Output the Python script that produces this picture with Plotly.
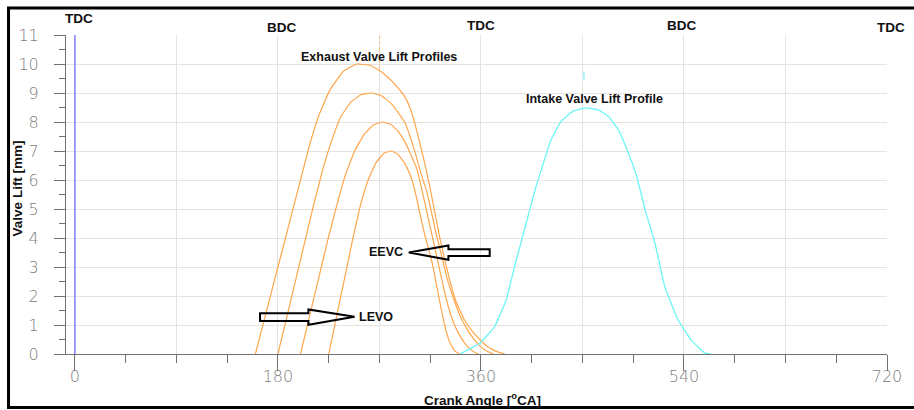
import plotly.graph_objects as go

# ---------------- data ----------------
# Exhaust valve lift profiles (crank angle [deg], lift [mm])
exh1_ca = [160, 168, 176, 184, 192, 200, 208, 216, 226, 238, 250, 262, 271, 280, 287, 292, 297, 301, 305, 310, 315, 319, 323, 327, 332, 338, 345, 352, 359, 366, 373, 381]
exh1_lift = [0, 1.2, 2.4, 3.6, 4.8, 6.0, 7.2, 8.2, 9.1, 9.75, 10.0, 9.95, 9.75, 9.45, 9.15, 8.9, 8.5, 8.0, 7.4, 6.6, 5.7, 4.9, 4.1, 3.4, 2.6, 1.8, 1.2, 0.8, 0.5, 0.25, 0.1, 0]

exh2_ca = [180, 188, 196, 204, 212, 220, 228, 236, 245, 254, 263, 272, 280, 287, 293, 298, 302, 307, 312, 316, 320, 325, 330, 335, 341, 347, 353, 359, 365, 371]
exh2_lift = [0, 1.3, 2.6, 3.9, 5.2, 6.4, 7.4, 8.2, 8.7, 8.95, 9.0, 8.9, 8.65, 8.3, 7.95, 7.4, 6.9, 6.2, 5.6, 4.9, 4.2, 3.4, 2.6, 2.0, 1.35, 0.9, 0.55, 0.28, 0.1, 0]

exh3_ca = [200, 208, 216, 224, 232, 240, 248, 256, 264, 272, 280, 286, 292, 297, 303, 308, 312, 316, 320, 324, 328, 332, 336, 341, 346, 351, 355, 358]
exh3_lift = [0, 1.3, 2.6, 3.9, 5.1, 6.2, 7.0, 7.55, 7.88, 8.0, 7.92, 7.7, 7.35, 6.95, 6.4, 5.6, 4.9, 4.2, 3.5, 2.8, 2.1, 1.5, 1.05, 0.65, 0.35, 0.15, 0.05, 0]

exh4_ca = [225, 232, 239, 246, 253, 260, 267, 274, 280, 286, 292, 297, 301, 305, 309, 313, 317, 321, 325, 329, 333, 337, 341]
exh4_lift = [0, 1.3, 2.6, 3.9, 5.1, 6.0, 6.6, 6.92, 7.0, 6.9, 6.6, 6.2, 5.7, 5.0, 4.3, 3.7, 3.1, 2.3, 1.5, 0.8, 0.35, 0.1, 0]

# Intake valve lift profile
int_ca = [341.4, 359, 372, 382.4, 389.7, 400, 408.8, 417.6, 422, 430.8, 441, 452.7, 464.4, 473.3, 482, 490.8, 498.2, 505.5, 514.3, 523, 534.8, 546.5, 558.2, 564]
int_lift = [0, 0.37, 0.94, 1.86, 3.0, 4.5, 5.77, 6.86, 7.38, 8.01, 8.36, 8.49, 8.41, 8.18, 7.72, 6.92, 6.11, 4.97, 3.82, 2.32, 1.17, 0.48, 0.04, 0]

x_ticks = [0, 180, 360, 540, 720]
x_ticktext = ["0", "180", "360", "540", "720"]
x_grid_minor = [90, 270, 450, 630]
x_ticks_minor = [45, 90, 135, 225, 270, 315, 405, 450, 495, 585, 630, 675]
y_ticks = list(range(0, 12))

dead_centres = ["TDC", "BDC", "TDC", "BDC", "TDC"]

# ---------------- layout geometry helpers (pixels -> data / paper) ----------------
X0_PX, PX_PER_DEG = 75.0, 1.1375
Y0_PX, PX_PER_MM = 354.0, 29.0
L_PX, PLOT_W, PLOT_H = 66.0, 828.0, 319.0


def dx(px):
    return (px - X0_PX) / PX_PER_DEG


def dy(py):
    return (Y0_PX - py) / PX_PER_MM


def pxp(px):
    return (px - L_PX) / PLOT_W


def pyp(py):
    return (Y0_PX - py) / PLOT_H


def path_px(points, close=True):
    s = "M " + " L ".join(f"{dx(p[0]):.3f},{dy(p[1]):.3f}" for p in points)
    return s + (" Z" if close else "")


ORANGE = "#ffa64d"
CYAN = "#6ff5f5"

fig = go.Figure()

for ca, lift in [(exh1_ca, exh1_lift), (exh2_ca, exh2_lift), (exh3_ca, exh3_lift), (exh4_ca, exh4_lift)]:
    fig.add_trace(go.Scatter(x=ca, y=lift, mode="lines",
                             line=dict(color=ORANGE, width=1.2, shape="spline", smoothing=0.3),
                             hoverinfo="skip", showlegend=False))

fig.add_trace(go.Scatter(x=int_ca, y=int_lift, mode="lines",
                         line=dict(color=CYAN, width=1.3, shape="spline", smoothing=0.3),
                         hoverinfo="skip", showlegend=False))

# TDC marker line at 0 deg
fig.add_trace(go.Scatter(x=[0, 0], y=[0, 11], mode="lines",
                         line=dict(color="#8080ff", width=1.5), hoverinfo="skip", showlegend=False))
# small marker remnants
fig.add_trace(go.Scatter(x=[270, 270], y=[9.85, 10.95], mode="lines",
                         line=dict(color=ORANGE, width=1, dash="dot"), opacity=0.7,
                         hoverinfo="skip", showlegend=False))
fig.add_trace(go.Scatter(x=[451.3, 451.3], y=[9.47, 9.73], mode="lines",
                         line=dict(color=CYAN, width=1.2), hoverinfo="skip", showlegend=False))
# empty trace so that the tick-only overlay axis is drawn
fig.add_trace(go.Scatter(x=[None], y=[None], xaxis="x2", yaxis="y", mode="lines",
                         hoverinfo="skip", showlegend=False))

GRID = "#e6e3dc"
AXC = "#707070"
TICKFONT = dict(family="DejaVu Sans", size=16, color="#808080", weight=200)

fig.update_layout(
    width=914, height=410,
    margin=dict(l=66, r=20, t=35, b=56),
    paper_bgcolor="white", plot_bgcolor="white",
    xaxis=dict(
        range=[dx(66), 720], domain=[0, 1],
        tickmode="array", tickvals=x_ticks, ticktext=x_ticktext,
        ticks="", ticklabelstandoff=8,
        showgrid=True, gridcolor=GRID, gridwidth=1,
        minor=dict(tickmode="array", tickvals=x_grid_minor, ticks="",
                   showgrid=True, gridcolor=GRID, gridwidth=1),
        showline=True, linecolor=AXC, linewidth=1, zeroline=False,
        tickfont=TICKFONT, fixedrange=True,
    ),
    xaxis2=dict(
        overlaying="x", anchor="y", range=[dx(66), 720],
        tickmode="array", tickvals=x_ticks,
        ticks="outside", ticklen=16, tickwidth=1, tickcolor=AXC,
        minor=dict(tickmode="array", tickvals=x_ticks_minor, ticks="outside",
                   ticklen=8, tickwidth=1, tickcolor=AXC, showgrid=False),
        showticklabels=False, showgrid=False, showline=False, zeroline=False,
    ),
    yaxis=dict(
        range=[0, 11], tickmode="array", tickvals=y_ticks,
        ticks="outside", ticklen=11, tickwidth=1, tickcolor=AXC,
        minor=dict(dtick=0.5, ticks="outside", ticklen=6, tickcolor=AXC, showgrid=False),
        showgrid=True, gridcolor=GRID, gridwidth=1,
        showline=True, linecolor=AXC, linewidth=1, zeroline=False,
        tickfont=TICKFONT, ticklabelstandoff=12,
    ),
    showlegend=False,
)

# dead-centre labels (above the plot area -> paper coordinates)
dc_pos = [(79, 18), (283, 27), (485, 26), (687, 25), (898, 27)]
for txt, (px, py) in zip(dead_centres, dc_pos):
    fig.add_annotation(xref="paper", yref="paper", x=pxp(px), y=pyp(py),
                       xanchor="center", yanchor="middle",
                       text=f"<b>{txt}</b>", showarrow=False,
                       font=dict(family="Liberation Sans", size=13.5, color="#111"))

labels = [
    ("Exhaust Valve Lift Profiles", 382, 57),
    ("Intake Valve Lift Profile", 598.5, 99),
    ("EEVC", 389, 252.3),
    ("LEVO", 378.7, 316.7),
]
for txt, px, py in labels:
    fig.add_annotation(x=dx(px), y=dy(py), xanchor="center", yanchor="middle",
                       text=f"<b>{txt}</b>", showarrow=False,
                       font=dict(family="Liberation Sans", size=12.5, color="#111"))

# axis titles
fig.add_annotation(xref="paper", yref="paper", x=pxp(18), y=pyp(188),
                   xanchor="center", yanchor="middle",
                   text="<b>Valve Lift [mm]</b>", textangle=-90, showarrow=False,
                   font=dict(family="Liberation Sans", size=13.5, color="#111"))
fig.add_annotation(xref="paper", yref="paper", x=pxp(486), y=pyp(399),
                   xanchor="center", yanchor="middle",
                   text="<b>Crank Angle [<sup>o</sup>CA]</b>", showarrow=False,
                   font=dict(family="Liberation Sans", size=13.5, color="#111"))

# block arrows
eevc_arrow = [(411.7, 252.5), (451.7, 245.5), (451.7, 249.2), (493.3, 249.2),
              (493.3, 256.0), (451.7, 256.0), (451.7, 259.7)]
levo_arrow = [(261.7, 313.3), (310.5, 313.3), (310.5, 309.5), (357.0, 316.7),
              (310.5, 324.7), (310.5, 321.0), (261.7, 321.0)]
for pts in (eevc_arrow, levo_arrow):
    fig.add_shape(type="path", path=path_px(pts), xref="x", yref="y",
                  line=dict(color="black", width=2), fillcolor="rgba(255,255,255,0)", layer="above")

# outer frame (left, top and bottom edges; the right edge lies outside the picture)
frame = f"M {pxp(930):.4f},{pyp(8):.4f} L {pxp(8):.4f},{pyp(8):.4f} L {pxp(8):.4f},{pyp(407.5):.4f} L {pxp(930):.4f},{pyp(407.5):.4f}"
fig.add_shape(type="path", path=frame, xref="paper", yref="paper",
              line=dict(color="black", width=3), layer="above")

fig.write_html("out.html")
